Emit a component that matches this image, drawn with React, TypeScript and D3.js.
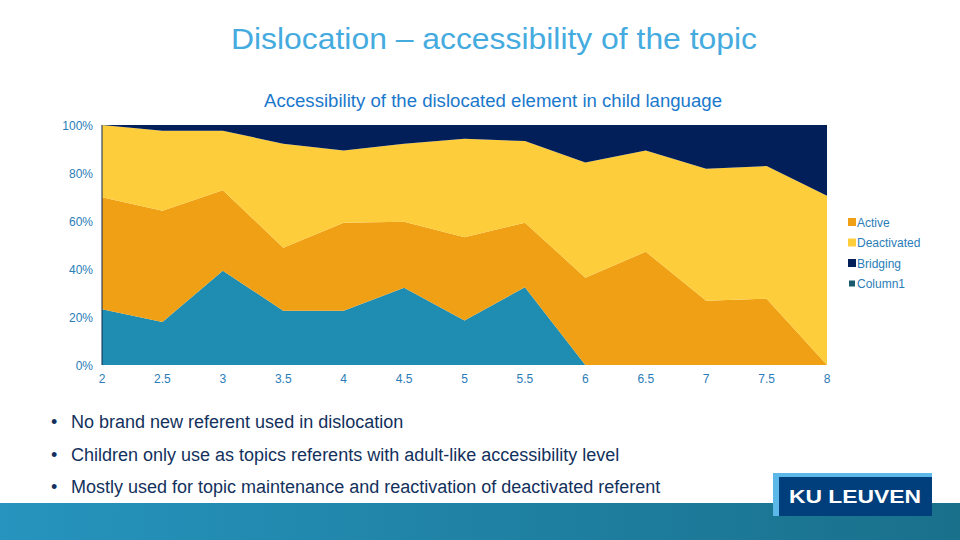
import React from "react";
import * as d3 from "d3";

const ages = [2, 2.5, 3, 3.5, 4, 4.5, 5, 5.5, 6, 6.5, 7, 7.5, 8];
const column1 = [23.2, 17.9, 39.3, 22.6, 22.6, 32.2, 18.5, 32.4, 0, 0, 0, 0, 0];
const active = [46.7, 46.4, 33.5, 26.3, 36.7, 27.5, 34.7, 26.9, 36.4, 47.2, 26.8, 27.6, 0];
const deactivated = [30.1, 33.3, 24.8, 43.3, 30.1, 32.5, 41.1, 34.0, 48.0, 42.2, 55.0, 55.3, 70.5];
const bridging = [0, 2.4, 2.4, 7.8, 10.6, 7.8, 5.7, 6.7, 15.6, 10.6, 18.2, 17.1, 29.5];

const seriesKeys = ["Column1", "Active", "Deactivated", "Bridging"];
const seriesColors: Record<string, string> = {
  Column1: "#1f8db2",
  Active: "#efa014",
  Deactivated: "#fdcd3b",
  Bridging: "#021f5a",
};
const legendItems = ["Active", "Deactivated", "Bridging", "Column1"];
const legendColors: Record<string, string> = {
  Active: "#efa014",
  Deactivated: "#fdcd3b",
  Bridging: "#021f5a",
  Column1: "#1a5a6e",
};
const yTicks = [0, 0.2, 0.4, 0.6, 0.8, 1];
const xTicks = [2, 2.5, 3, 3.5, 4, 4.5, 5, 5.5, 6, 6.5, 7, 7.5, 8];
const bullets = [
  "No brand new referent used in dislocation",
  "Children only use as topics referents with adult-like accessibility level",
  "Mostly used for topic maintenance and reactivation of deactivated referent",
];

export default function App() {
  const W = 960, H = 540;
  const x = d3.scaleLinear().domain([2, 8]).range([102, 827]);
  const y = d3.scaleLinear().domain([0, 1]).range([365, 125]);

  const rows = ages.map((a, i) => {
    const total = column1[i] + active[i] + deactivated[i] + bridging[i];
    return {
      age: a,
      Column1: column1[i] / total,
      Active: active[i] / total,
      Deactivated: deactivated[i] / total,
      Bridging: bridging[i] / total,
    };
  });
  const stacked = d3.stack<any>().keys(seriesKeys)(rows);
  const area = d3
    .area<any>()
    .x((d) => x(d.data.age))
    .y0((d) => y(d[0]))
    .y1((d) => y(d[1]));

  const tickColor = "#2a7db8";
  const fmt = d3.format(".0%");

  return (
    <svg width={W} height={H} style={{ position: "absolute", left: 0, top: 0 }} fontFamily="'Liberation Sans', Arial, sans-serif">
      <defs>
        <linearGradient id="band" x1="0" x2="1" y1="0" y2="0">
          <stop offset="0" stopColor="#2694be" />
          <stop offset="1" stopColor="#19708b" />
        </linearGradient>
      </defs>
      <rect x={0} y={0} width={W} height={H} fill="#ffffff" />
      <text x={231} y={49} fontSize={30} fill="#45abdf" textLength={526} lengthAdjust="spacingAndGlyphs">
        Dislocation – accessibility of the topic
      </text>
      <text x={264} y={107} fontSize={17.5} fill="#1a78cc" textLength={458} lengthAdjust="spacingAndGlyphs">
        Accessibility of the dislocated element in child language
      </text>

      {stacked.map((s) => (
        <path key={s.key} d={area(s) || ""} fill={seriesColors[s.key]} />
      ))}
      <line x1={x(2)} x2={x(2)} y1={y(0)} y2={y(1)} stroke="#0a2a4a" strokeWidth={1} />

      {yTicks.map((t) => (
        <text key={t} x={93} y={y(t) + 4.5} textAnchor="end" fontSize={12} fill={tickColor}>
          {fmt(t)}
        </text>
      ))}
      {xTicks.map((t) => (
        <text key={t} x={x(t)} y={383} textAnchor="middle" fontSize={12} fill={tickColor}>
          {String(t)}
        </text>
      ))}

      {legendItems.map((k, i) => {
        const cy = 222 + i * 20.5;
        const small = k === "Column1";
        const s = small ? 6 : 8;
        return (
          <g key={k}>
            <rect x={small ? 849 : 848} y={cy - s / 2} width={s} height={s} fill={legendColors[k]} />
            <text x={857} y={cy + 4.5} fontSize={12} fill={tickColor}>
              {k}
            </text>
          </g>
        );
      })}

      {bullets.map((b, i) => (
        <g key={i}>
          <text x={51} y={428 + i * 32.5} fontSize={18} fill="#13315c">•</text>
          <text x={71} y={428 + i * 32.5} fontSize={18} fill="#13315c">{b}</text>
        </g>
      ))}

      <rect x={0} y={503} width={W} height={37} fill="url(#band)" />
      <rect x={773} y={473} width={159} height={43} fill="#5bb8e8" />
      <rect x={779} y={477} width={153} height={39} fill="#013f7c" />
      <text x={789} y={503} fontSize={18} fontWeight="bold" fill="#ffffff" textLength={132} lengthAdjust="spacingAndGlyphs">
        KU LEUVEN
      </text>
    </svg>
  );
}
